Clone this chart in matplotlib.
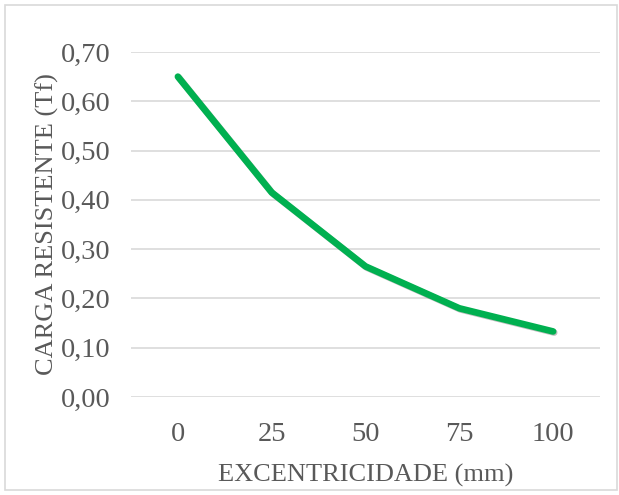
import matplotlib
matplotlib.use("Agg")
import matplotlib.pyplot as plt
from matplotlib.patches import Rectangle
import matplotlib.patheffects as pe

# data
excentricidade = ["0", "25", "50", "75", "100"]
carga = [0.65, 0.415, 0.265, 0.18, 0.133]
yticks = [0.0, 0.1, 0.2, 0.3, 0.4, 0.5, 0.6, 0.7]

plt.rcParams["font.family"] = ["Liberation Serif", "DejaVu Serif"]
txt = "#595959"
grid = "#D9D9D9"

fig = plt.figure(figsize=(6.19, 4.95), dpi=100)
ax = fig.add_axes([131 / 619, 98 / 495, 469 / 619, 345 / 495])

x = list(range(len(excentricidade)))
ax.plot(x, carga, color="#00B050", lw=4.8, solid_capstyle="round",
        solid_joinstyle="round",
        path_effects=[pe.SimpleLineShadow(offset=(0.8, -0.8), alpha=0.25),
                      pe.Normal()])

ax.set_xlim(-0.5, len(x) - 0.5)
ax.set_ylim(0, 0.70)
ax.set_yticks(yticks)
ax.set_yticklabels([f"{v:.2f}".replace(".", ",") for v in yticks])
ax.set_xticks(x)
ax.set_xticklabels(excentricidade)
ax.tick_params(length=0, labelsize=20.5, colors=txt)
ax.tick_params(axis="y", pad=15)
ax.tick_params(axis="x", pad=18)
ax.grid(axis="y", color=grid, lw=1.2)
ax.set_axisbelow(True)
for s in ax.spines.values():
    s.set_visible(False)

ax.set_xlabel("EXCENTRICIDADE (mm)", fontsize=19, color=txt, labelpad=12)
ax.set_ylabel("CARGA RESISTENTE (Tf)", fontsize=19, color=txt, labelpad=1)

fig.patches.append(Rectangle((5 / 619, 5 / 495), 612 / 619, 485 / 495,
                             transform=fig.transFigure, fill=False,
                             edgecolor=grid, lw=1.2))

fig.savefig("out.png", dpi=100)
